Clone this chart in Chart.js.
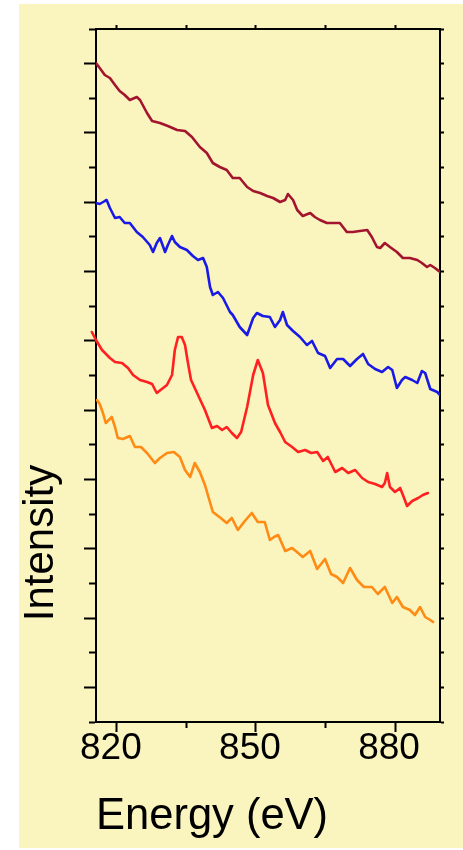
<!DOCTYPE html>
<html><head><meta charset="utf-8">
<script src="https://cdn.jsdelivr.net/npm/chart.js@4"></script>
<style>
html,body{margin:0;padding:0;background:#fff;width:463px;height:850px;overflow:hidden}
#bg{position:absolute;left:19px;top:4px;width:444px;height:844px;background:#faf4be}
#c{position:absolute;left:0;top:0}
</style></head><body>
<div id="bg"></div>
<canvas id="c" width="463" height="850"></canvas>
<script>
// Energy axis (eV)
const xMin = 815.5, xMax = 889.7;
const xTickValues = [820, 835, 850, 865, 880];
const xTickLabels = [820, 850, 880];
// Intensity axis (arbitrary units)
const yMin = 0, yMax = 693, yStep = 34.65;
const xTitle = 'Energy (eV)';
const yTitle = 'Intensity';

const darkRedEnergy = [815.5,816.3,817.4,818.5,819.6,820.6,821.7,822.8,824.3,825.0,826.5,827.6,829.3,831.0,833.0,834.7,836.2,837.9,839.4,840.7,842.2,843.7,845.0,846.5,848.1,849.4,850.9,852.4,853.7,855.2,856.3,856.9,858.0,858.9,860.1,861.7,862.7,863.8,865.3,866.6,868.1,869.6,870.9,872.4,874.0,875.0,876.1,876.8,877.8,878.9,880.4,881.7,883.2,884.8,885.8,886.9,887.6,888.6,889.7];
const darkRedIntensity = [659,654,647,644,637,631,627,622,625,622,609,601,599,596,592,591,585,575,569,559,555,552,544,544,535,531,529,526,524,520,522,528,522,512,506,509,505,502,499,499,499,490,490,491,492,485,475,474,479,475,470,464,464,462,459,455,457,454,450];

const blueEnergy = [815.5,816.3,817.4,817.8,818.5,819.6,820.6,821.7,822.8,824.3,825.6,827.1,827.8,828.6,829.3,830.4,831.0,831.9,832.5,833.6,835.1,836.4,837.5,838.6,839.4,840.1,840.7,841.8,842.9,844.4,845.0,846.5,848.1,849.4,850.2,851.5,853.0,854.1,855.2,855.8,856.7,858.0,859.5,861.0,862.1,863.4,864.9,866.0,867.5,868.8,870.3,871.8,873.1,874.2,875.7,877.2,878.5,879.4,880.4,881.5,882.2,883.7,884.8,885.8,886.5,887.6,889.1,889.7];
const blueIntensity = [519,518,521,522,514,504,505,499,499,490,485,477,470,479,484,470,477,486,480,475,472,466,462,464,455,435,427,430,424,410,407,395,387,404,409,406,405,395,402,410,397,391,385,377,381,369,366,354,363,363,356,363,368,358,353,350,355,352,334,342,345,342,339,351,349,333,330,327];

const redEnergy = [814.6,815.5,816.8,818.5,819.6,821.1,822.4,823.5,825.0,826.5,827.6,828.6,829.7,830.8,831.9,832.5,833.2,834.0,834.7,835.3,836.0,837.3,839.0,840.5,841.6,842.7,843.7,844.8,845.9,846.8,848.1,849.4,850.4,851.5,852.6,854.1,855.2,856.3,857.8,859.1,860.6,861.9,863.2,864.5,865.5,867.1,868.6,869.9,871.4,872.9,874.2,875.7,877.2,877.8,878.3,878.9,880.0,881.1,881.7,882.6,883.7,885.0,886.0,887.1];
const redIntensity = [390,382,372,364,360,359,354,347,342,340,338,329,333,337,347,372,385,385,377,360,342,329,312,294,296,292,295,289,284,290,315,347,362,349,317,299,290,280,275,270,272,269,270,261,265,250,254,249,252,244,240,238,235,239,249,235,230,234,227,216,221,224,227,229];

const orangeEnergy = [815.7,816.3,817.0,817.6,818.9,819.6,820.2,821.3,822.8,823.9,825.2,826.5,828.2,829.3,830.8,832.3,833.6,834.7,835.8,836.8,837.9,839.0,840.7,842.4,843.7,844.8,846.1,847.6,849.1,850.4,851.9,853.0,853.9,854.8,856.3,857.8,859.1,860.1,861.7,863.2,864.9,866.2,867.5,868.8,870.3,871.8,873.3,875.0,876.3,877.8,879.4,880.4,881.7,883.2,884.3,885.4,886.5,887.6,888.2];
const orangeIntensity = [322,318,309,299,305,295,284,283,286,275,275,269,259,264,269,270,265,252,245,259,250,237,210,204,199,204,192,201,209,200,200,182,185,187,171,174,169,165,171,153,163,148,145,139,154,142,135,135,128,135,119,125,115,112,107,115,105,102,100];

const toPoints = (xs, ys) => xs.map((x, i) => ({x, y: ys[i]}));

Chart.defaults.font.family = '"Liberation Sans", Arial, sans-serif';
Chart.defaults.color = '#000';

const lineDs = (label, xs, ys, color, extra) => Object.assign({
  label, data: toPoints(xs, ys), borderColor: color, backgroundColor: color,
  borderWidth: 2.6, borderJoinStyle: 'round', borderCapStyle: 'round',
  pointRadius: 0, tension: 0, fill: false
}, extra || {});

const yTitlePlugin = {
  id: 'yTitle',
  afterDraw(chart) {
    const ctx = chart.ctx;
    ctx.save();
    ctx.translate(53, 543);
    ctx.rotate(-Math.PI / 2);
    ctx.font = '42px "Liberation Sans", Arial, sans-serif';
    ctx.fillStyle = '#000';
    ctx.textAlign = 'center';
    ctx.textBaseline = 'alphabetic';
    ctx.fillText(yTitle, 0, 0);
    ctx.restore();
  }
};

const setXTicks = s => { s.ticks = xTickValues.map(v => ({value: v})); };
const black = '#000';

new Chart(document.getElementById('c'), {
  type: 'line',
  data: {
    datasets: [
      lineDs('Series 1', darkRedEnergy, darkRedIntensity, '#a3142e'),
      lineDs('Series 2', blueEnergy, blueIntensity, '#1a1ae6'),
      lineDs('Series 3', redEnergy, redIntensity, '#ff2020', {clip: {left: 6, top: 0, right: 0, bottom: 0}}),
      lineDs('Series 4', orangeEnergy, orangeIntensity, '#ff8a14')
    ]
  },
  options: {
    responsive: false,
    animation: false,
    devicePixelRatio: 1,
    layout: {padding: 0},
    plugins: {legend: {display: false}, tooltip: {enabled: false}},
    scales: {
      x: {
        type: 'linear', position: 'bottom', min: xMin, max: xMax,
        afterBuildTicks: setXTicks,
        afterFit: s => { s.height = 128; },
        border: {display: true, color: black, width: 2},
        grid: {
          drawOnChartArea: false, drawTicks: true, tickLength: 10,
          tickColor: black, tickWidth: 2,
          tickBorderDash: [10, 10],
          tickBorderDashOffset: c => (c.index % 2 === 0 ? 0 : 5)
        },
        ticks: {
          autoSkip: false, maxRotation: 0, padding: -5, labelOffset: -6,
          font: {size: 37}, color: black,
          callback: v => (xTickLabels.includes(v) ? String(v) : '')
        },
        title: {display: true, text: xTitle, align: 'start', font: {size: 43.5}, color: black, padding: {top: 0, bottom: 7}}
      },
      x2: {
        type: 'linear', position: 'top', min: xMin, max: xMax,
        afterBuildTicks: setXTicks,
        afterFit: s => { s.height = 29; },
        border: {display: true, color: black, width: 2},
        grid: {drawOnChartArea: false, drawTicks: true, tickLength: 4, tickColor: black, tickWidth: 2},
        ticks: {display: false}
      },
      y: {
        type: 'linear', position: 'left', min: yMin, max: yMax,
        afterFit: s => { s.width = 96; },
        border: {display: true, color: black, width: 2},
        grid: {
          drawOnChartArea: false, drawTicks: true, tickLength: 12,
          tickColor: black, tickWidth: 2,
          tickBorderDash: [12, 12],
          tickBorderDashOffset: c => (c.index % 2 === 1 ? 0 : 19)
        },
        ticks: {display: false, stepSize: yStep}
      },
      y2: {
        type: 'linear', position: 'right', min: yMin, max: yMax,
        afterFit: s => { s.width = 23; },
        border: {display: true, color: black, width: 2},
        grid: {drawOnChartArea: false, drawTicks: true, tickLength: 4, tickColor: black, tickWidth: 2},
        ticks: {display: false, stepSize: yStep}
      }
    }
  },
  plugins: [yTitlePlugin]
});
</script>
</body></html>
